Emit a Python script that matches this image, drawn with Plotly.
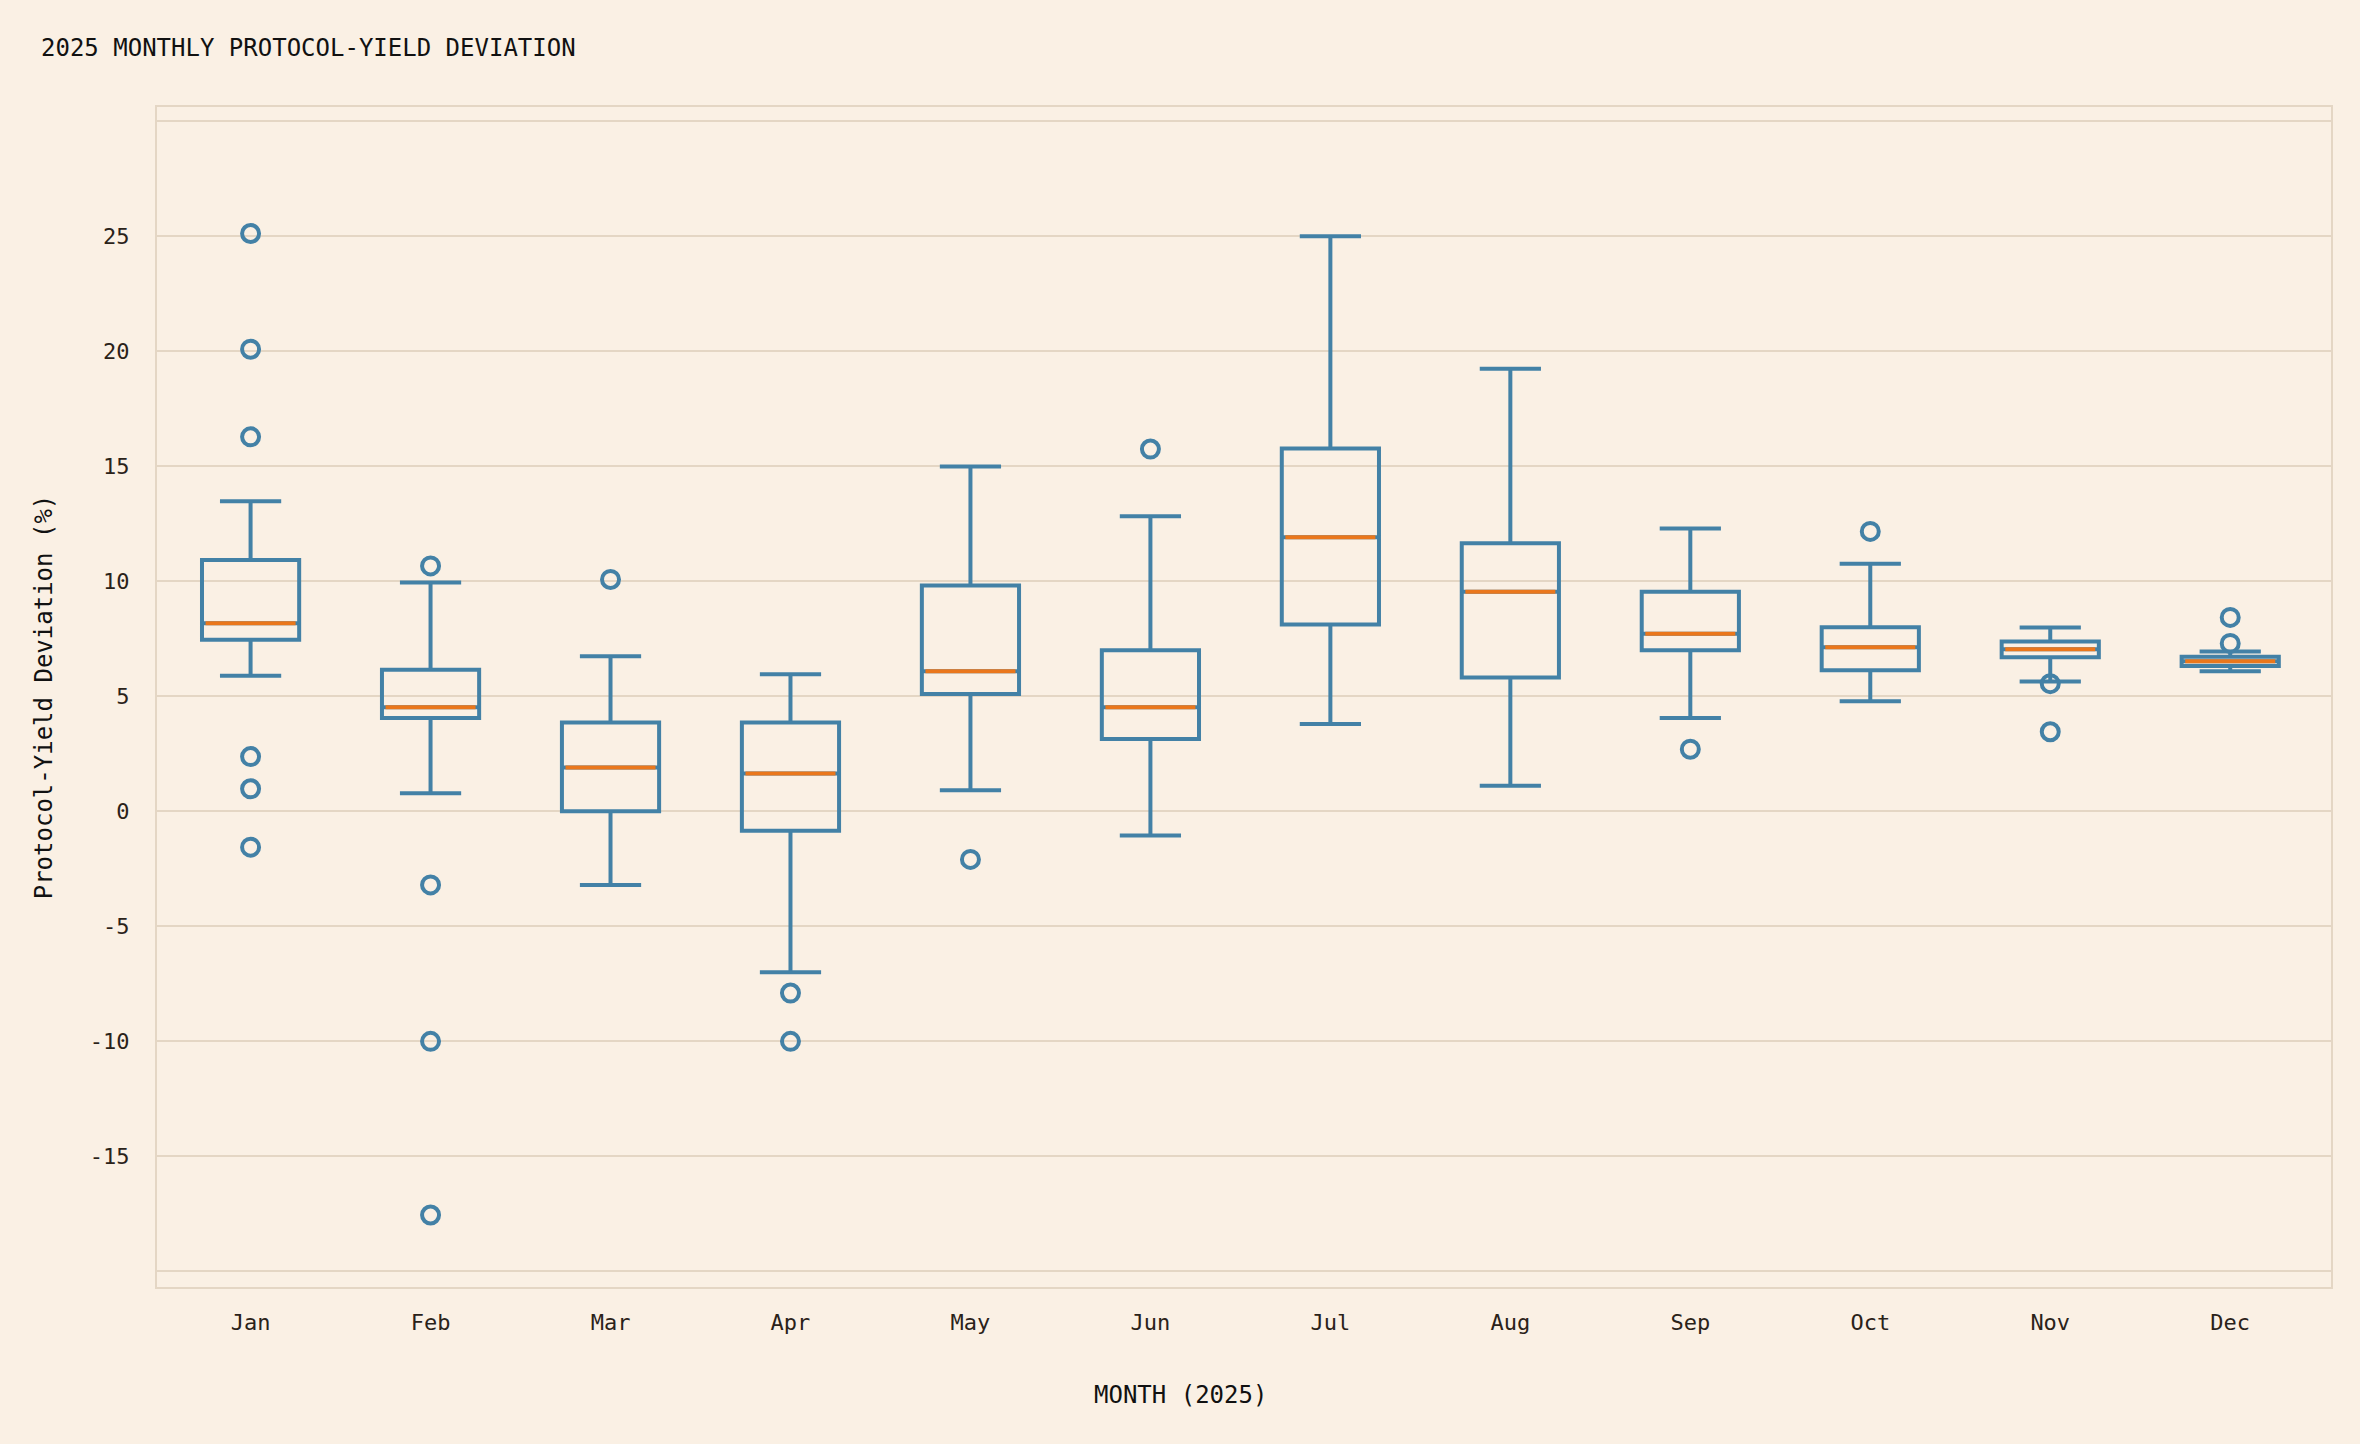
import plotly.graph_objects as go

months = ["Jan", "Feb", "Mar", "Apr", "May", "Jun", "Jul", "Aug", "Sep", "Oct", "Nov", "Dec"]
q1 = [7.46, 4.06, 0.0, -0.85, 5.10, 3.14, 8.12, 5.82, 7.00, 6.13, 6.70, 6.32]
median = [8.18, 4.52, 1.90, 1.64, 6.09, 4.52, 11.91, 9.55, 7.72, 7.13, 7.05, 6.52]
q3 = [10.93, 6.15, 3.86, 3.86, 9.82, 7.00, 15.77, 11.65, 9.55, 8.00, 7.38, 6.72]
lowerfence = [5.89, 0.79, -3.20, -7.00, 0.92, -1.05, 3.80, 1.11, 4.06, 4.78, 5.64, 6.09]
upperfence = [13.48, 9.95, 6.74, 5.96, 14.99, 12.83, 25.00, 19.24, 12.30, 10.76, 7.99, 6.95]

outlier_months = ["Jan", "Jan", "Jan", "Jan", "Jan", "Jan",
                  "Feb", "Feb", "Feb", "Feb",
                  "Mar",
                  "Apr", "Apr",
                  "May",
                  "Jun",
                  "Sep",
                  "Oct",
                  "Nov", "Nov",
                  "Dec", "Dec"]
outlier_values = [25.12, 20.09, 16.28, 2.38, 0.98, -1.56,
                  10.67, -3.20, -10.00, -17.55,
                  10.08,
                  -7.90, -10.00,
                  -2.09,
                  15.75,
                  2.70,
                  12.17,
                  5.55, 3.46,
                  8.43, 7.30]

ytick_vals = [-20, -15, -10, -5, 0, 5, 10, 15, 20, 25, 30]
ytick_text = ["", "-15", "-10", "-5", "0", "5", "10", "15", "20", "25", ""]

BG = "#FAF0E4"
GRID = "#E4D6C4"
BLUE = "#4381A6"
ORANGE = "#EA771C"
TEXT = "#2A2219"
FONT = "DejaVu Sans Mono"

fig = go.Figure()

fig.add_trace(go.Box(
    x=months, q1=q1, median=median, q3=q3,
    lowerfence=lowerfence, upperfence=upperfence,
    boxpoints=False, width=0.54, whiskerwidth=0.63,
    line=dict(color=BLUE, width=4),
    fillcolor="rgba(0,0,0,0)",
    showlegend=False, hoverinfo="skip",
))

fig.add_trace(go.Box(
    x=months, q1=median, median=median, q3=median,
    lowerfence=median, upperfence=median,
    boxpoints=False, width=0.50, whiskerwidth=0,
    line=dict(color=ORANGE, width=4),
    fillcolor="rgba(0,0,0,0)",
    showlegend=False, hoverinfo="skip",
))

fig.add_trace(go.Scatter(
    x=outlier_months, y=outlier_values, mode="markers",
    marker=dict(symbol="circle-open", size=17, color=BLUE,
                line=dict(color=BLUE, width=4)),
    showlegend=False, hoverinfo="skip",
))

fig.update_layout(
    width=2360, height=1444,
    paper_bgcolor=BG, plot_bgcolor=BG,
    boxmode="overlay",
    margin=dict(l=157, r=29, t=107, b=157),
    title=dict(text="2025 MONTHLY PROTOCOL-YIELD DEVIATION",
               x=41 / 2360, xref="container", xanchor="left",
               y=1 - 48 / 1444, yref="container", yanchor="middle",
               font=dict(family=FONT, size=24, color="#111111")),
    font=dict(family=FONT, color=TEXT),
    annotations=[dict(
        text="MONTH (2025)", xref="paper", yref="paper",
        x=(1180 - 157) / (2360 - 157 - 29), y=-(1395 - 1287) / (1444 - 107 - 157),
        xanchor="center", yanchor="middle", showarrow=False,
        font=dict(family=FONT, size=24, color="#111111"),
    )],
)

fig.update_xaxes(
    type="category", categoryorder="array", categoryarray=months,
    range=[-0.52, 11.56],
    showgrid=False, zeroline=False,
    showline=True, mirror=True, linecolor=GRID, linewidth=2,
    ticks="outside", ticklen=15, tickcolor="rgba(0,0,0,0)",
    tickfont=dict(family=FONT, size=22, color=TEXT),
)

fig.update_yaxes(
    range=[-20.68, 30.62],
    tickmode="array", tickvals=ytick_vals, ticktext=ytick_text,
    showgrid=True, gridcolor=GRID, gridwidth=2,
    zeroline=False,
    showline=True, mirror=True, linecolor=GRID, linewidth=2,
    ticks="outside", ticklen=21, tickcolor="rgba(0,0,0,0)",
    tickfont=dict(family=FONT, size=22, color=TEXT),
    title=dict(text="Protocol-Yield Deviation (%)", standoff=30,
               font=dict(family=FONT, size=24, color="#111111")),
)

fig.write_html(
    "out.html",
    config={"displayModeBar": False},
    post_script="document.body.style.margin='0';document.body.style.background='%s';" % BG,
)
